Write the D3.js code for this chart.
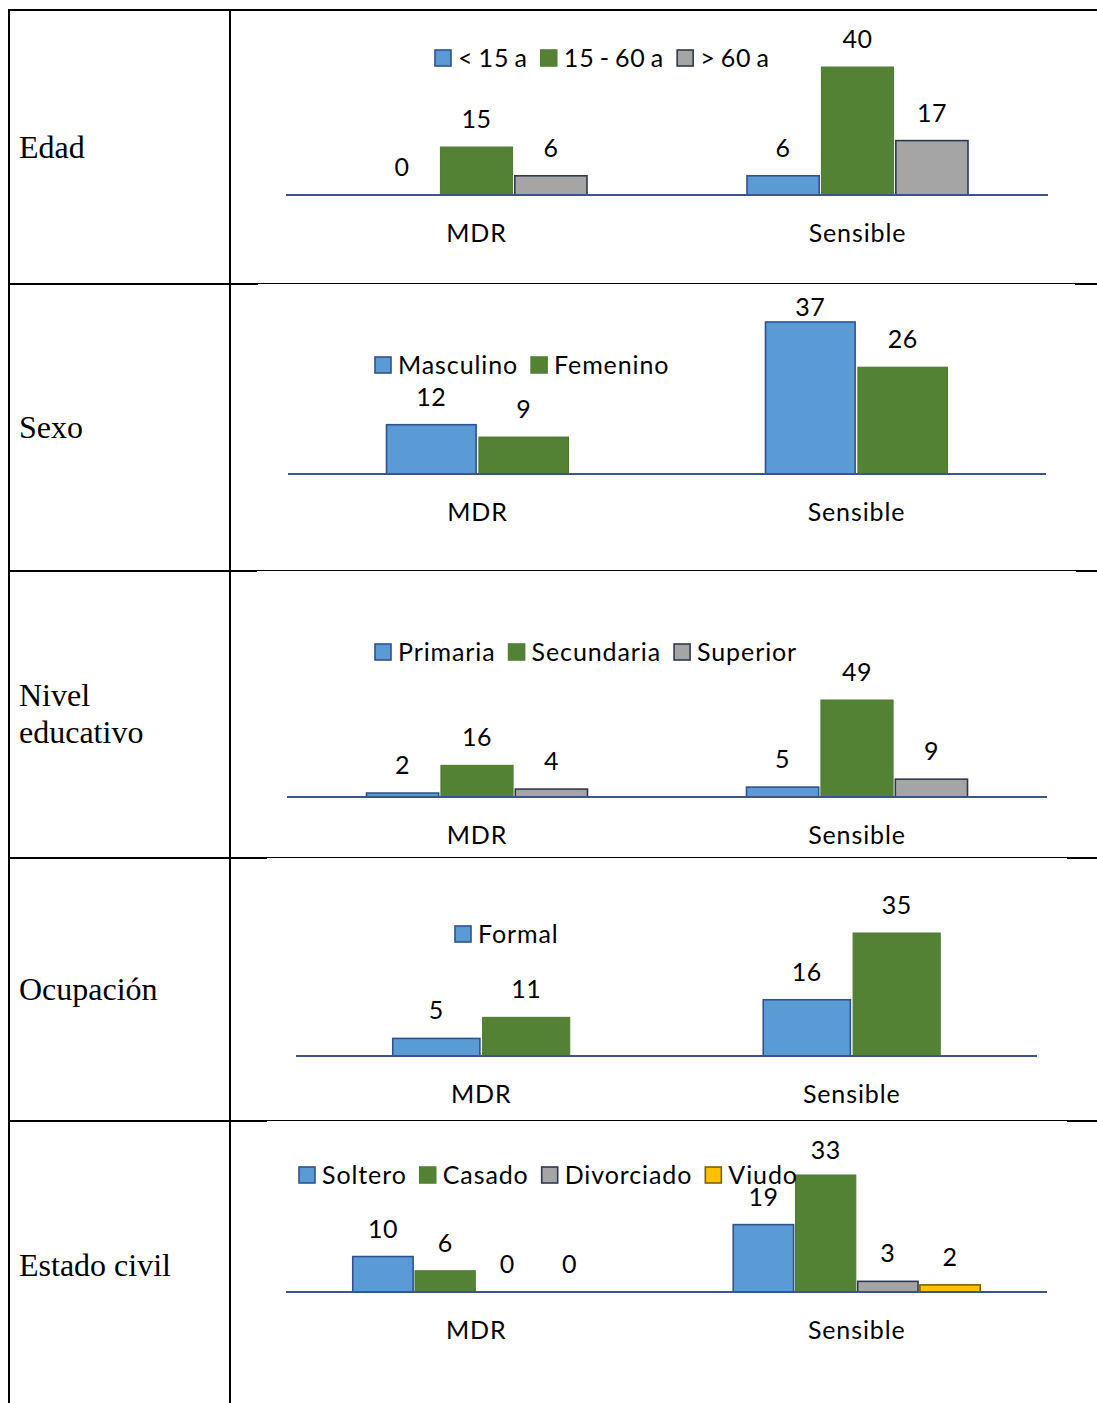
<!DOCTYPE html>
<html>
<head>
<meta charset="utf-8">
<script src="https://cdn.jsdelivr.net/npm/d3@7"></script>
<style>
  html, body { margin: 0; padding: 0; background: #fff; }
  svg { display: block; }
</style>
</head>
<body>
<svg id="chart" width="1097" height="1403"></svg>
<script>
// ---- data ----
const groups = ["MDR", "Sensible"];

const edadSeries = ["< 15 a", "15 - 60 a", "> 60 a"];
const edadMenor15 = [0, 6];
const edad15a60 = [15, 40];
const edadMayor60 = [6, 17];

const sexoSeries = ["Masculino", "Femenino"];
const sexoMasculino = [12, 37];
const sexoFemenino = [9, 26];

const nivelSeries = ["Primaria", "Secundaria", "Superior"];
const nivelPrimaria = [2, 5];
const nivelSecundaria = [16, 49];
const nivelSuperior = [4, 9];

const ocupacionSeries = ["Formal", "Informal"];
const ocupacionLegend = ["Formal"];
const ocupacionFormal = [5, 16];
const ocupacionInformal = [11, 35];

const civilSeries = ["Soltero", "Casado", "Divorciado", "Viudo"];
const civilSoltero = [10, 19];
const civilCasado = [6, 33];
const civilDivorciado = [0, 3];
const civilViudo = [0, 2];

// ---- styling ----
const fills = ["#5B9BD5", "#548235", "#A5A5A5", "#FFC000"];
const strokes = ["#2F528F", "#4C7A30", "#2E3A4C", "#7F6000"];
const legendStrokes = ["#2F528F", "#548235", "#2E3A4C", "#7F6000"];
const sansFont = "Lato, 'Open Sans', sans-serif";
const serifFont = "'Liberation Serif', 'DejaVu Serif', serif";

// ---- panels (one table row each) ----
const panels = [
  { title: ["Edad"], titleY: [158],
    series: edadSeries, legend: edadSeries,
    values: [edadMenor15, edad15a60, edadMayor60],
    x0: 286, x1: 1048, baseline: 195, top: 67, groupWidth: 221,
    legendX: 434, legendY: 58, labelFloor: 0 },
  { title: ["Sexo"], titleY: [438],
    series: sexoSeries, legend: sexoSeries,
    values: [sexoMasculino, sexoFemenino],
    x0: 288, x1: 1046, baseline: 474, top: 322, groupWidth: 182,
    legendX: 374, legendY: 365, labelFloor: 316 },
  { title: ["Nivel", "educativo"], titleY: [706, 743],
    series: nivelSeries, legend: nivelSeries,
    values: [nivelPrimaria, nivelSecundaria, nivelSuperior],
    x0: 287, x1: 1047, baseline: 797, top: 700, groupWidth: 221,
    legendX: 374, legendY: 652, labelFloor: 0 },
  { title: ["Ocupación"], titleY: [1000],
    series: ocupacionSeries, legend: ocupacionLegend,
    values: [ocupacionFormal, ocupacionInformal],
    x0: 296, x1: 1037, baseline: 1056, top: 933, groupWidth: 177,
    legendX: 454, legendY: 934, labelFloor: 0 },
  { title: ["Estado civil"], titleY: [1276],
    series: civilSeries, legend: civilSeries,
    values: [civilSoltero, civilCasado, civilDivorciado, civilViudo],
    x0: 286, x1: 1047, baseline: 1292, top: 1175, groupWidth: 247,
    legendX: 298, legendY: 1175, labelFloor: 1159 }
];

const svg = d3.select("#chart");

// ---- table grid ----
const grid = svg.append("g").attr("stroke", "#000");
const rowLines = [
  { y: 284, a: 258, b: 1075 },
  { y: 571, a: 257, b: 1076 },
  { y: 858, a: 267, b: 1067 },
  { y: 1121, a: 267, b: 1067 }
];
grid.append("line").attr("x1", 8).attr("x2", 1097).attr("y1", 10).attr("y2", 10).attr("stroke-width", 2);
grid.append("line").attr("x1", 9).attr("x2", 9).attr("y1", 9).attr("y2", 1403).attr("stroke-width", 2);
grid.append("line").attr("x1", 230).attr("x2", 230).attr("y1", 9).attr("y2", 1403).attr("stroke-width", 2);
rowLines.forEach(r => {
  grid.append("line").attr("x1", 8).attr("x2", r.a).attr("y1", r.y).attr("y2", r.y).attr("stroke-width", 2);
  grid.append("line").attr("x1", r.a).attr("x2", r.b).attr("y1", r.y - 0.5).attr("y2", r.y - 0.5).attr("stroke-width", 1);
  grid.append("line").attr("x1", r.b).attr("x2", 1097).attr("y1", r.y).attr("y2", r.y).attr("stroke-width", 2);
});

// ---- each panel ----
panels.forEach(p => {
  const g = svg.append("g");

  // row title
  p.title.forEach((t, i) => {
    g.append("text")
      .attr("x", 19).attr("y", p.titleY[i])
      .attr("font-family", serifFont).attr("font-size", 32)
      .attr("fill", "#000").text(t);
  });

  const maxVal = d3.max(p.values.flat());
  const y = d3.scaleLinear().domain([0, maxVal]).range([p.baseline, p.top]);
  const xg = d3.scaleBand().domain(groups).range([p.x0, p.x1]).padding(0);
  const xs = d3.scaleBand().domain(p.series)
    .range([-p.groupWidth / 2, p.groupWidth / 2]).paddingInner(0.03);

  const rows = [];
  p.series.forEach((s, si) => {
    groups.forEach((grp, gi) => rows.push({ s, si, grp, v: p.values[si][gi] }));
  });

  const cx = d => xg(d.grp) + xg.bandwidth() / 2 + xs(d.s);

  // bars
  g.selectAll("rect.bar").data(rows.filter(d => d.v > 0)).join("rect")
    .attr("class", "bar")
    .attr("x", cx)
    .attr("y", d => y(d.v))
    .attr("width", xs.bandwidth())
    .attr("height", d => p.baseline - y(d.v))
    .attr("fill", d => fills[d.si])
    .attr("stroke", d => strokes[d.si])
    .attr("stroke-width", d => d.si === 1 ? 1 : 1.6);

  // category axis line
  const axis = d3.axisBottom(xg).tickSize(0).tickPadding(0);
  const ax = g.append("g").attr("transform", `translate(0,${p.baseline})`).call(axis);
  ax.select(".domain").attr("stroke", "#3A5588").attr("stroke-width", 2)
    .attr("d", `M${p.x0},0H${p.x1}`);
  ax.selectAll(".tick text")
    .attr("y", 47).attr("dy", 0)
    .attr("font-family", sansFont).attr("font-size", 25)
    .attr("letter-spacing", 0.9).attr("fill", "#000");

  // value labels
  g.selectAll("text.val").data(rows).join("text")
    .attr("class", "val")
    .attr("x", d => cx(d) + xs.bandwidth() / 2)
    .attr("y", d => Math.max(y(d.v) - 19, p.labelFloor))
    .attr("text-anchor", "middle")
    .attr("font-family", sansFont).attr("font-size", 25)
    .attr("letter-spacing", 0.5).attr("fill", "#000")
    .text(d => d.v);

  // legend
  const lg = g.append("g").attr("transform", `translate(${p.legendX},${p.legendY})`);
  let lx = 0;
  p.legend.forEach(name => {
    const si = p.series.indexOf(name);
    lg.append("rect")
      .attr("x", lx + 1).attr("y", -8).attr("width", 16).attr("height", 16)
      .attr("fill", fills[si]).attr("stroke", legendStrokes[si]).attr("stroke-width", 1.6);
    const t = lg.append("text")
      .attr("x", lx + 24).attr("y", 9)
      .attr("font-family", sansFont).attr("font-size", 25)
      .attr("letter-spacing", 0.9).attr("word-spacing", -2.2).attr("fill", "#000")
      .text(name);
    lx += 24 + t.node().getComputedTextLength() + 12;
  });
});
</script>
</body>
</html>
